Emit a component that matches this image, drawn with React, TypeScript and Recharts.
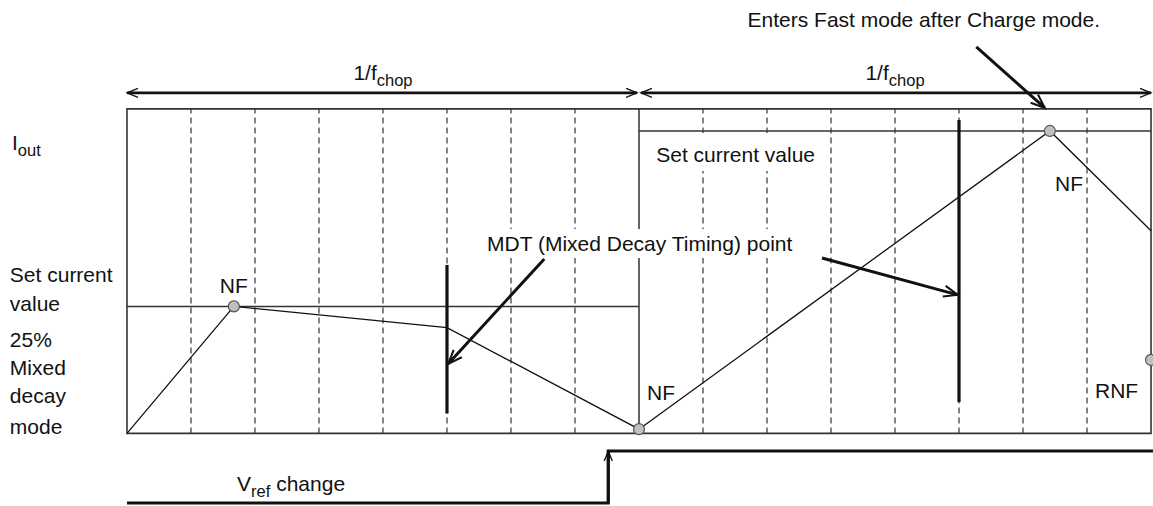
import React, { useLayoutEffect, useRef, useState } from "react"
import {
  ComposedChart,
  Line,
  XAxis,
  YAxis,
  ReferenceLine,
  ReferenceArea,
  ReferenceDot,
} from "recharts"

const W = 1153
const H = 506
const FONT = "'Liberation Sans', Arial, sans-serif"
const INK = "#111"

// time: one unit = one dashed sub-division, a chop period is 8 units
const X_DOMAIN = [-1.984, 16.031]
// current: 0 = box bottom, 100 = set current after the Vref change
const Y_DOMAIN = [-24, 143.3]

const CHOP_EDGES = [0, 8, 16]
const SUB_DIVS = [1, 2, 3, 4, 5, 6, 7, 9, 10, 11, 12, 13, 14, 15]
const BOX_TOP = 107.3

// Iout waveform
const IOUT_X = [0, 1.67, 5, 8, 14.42, 16]
const IOUT_Y = [0, 42, 35, 1.4, 100, 67]

// set current levels, one per chop period
const SET_LEVEL = [42, 100]

// NF / RNF points
const DOT_X = [1.67, 8, 14.42, 16]
const DOT_Y = [42, 1.4, 100, 24.3]

// MDT markers
const MDT_X = [5, 13]
const MDT_LOW = [6.6, 10.4]
const MDT_HIGH = [55.7, 103.6]

// Vref step
const VREF_X = [0, 7.52, 7.52, 16.03]
const VREF_Y = [-23, -23, -5.8, -5.8]

// pointer arrows (tail -> head)
const PTR_X1 = [6.52, 10.86, 13.27]
const PTR_Y1 = [57.7, 58.0, 127.8]
const PTR_X2 = [5.02, 12.98, 14.34]
const PTR_Y2 = [23.0, 45.8, 107.6]

const DIM_Y = 112.6

const iout = IOUT_X.map((x, i) => ({ x, y: IOUT_Y[i] }))
const vref = VREF_X.map((x, i) => ({ x, y: VREF_Y[i] }))

type Part = [string, boolean?]
type Ann = {
  x: number
  y: number
  parts: Part[]
  anchor?: "start" | "middle"
  bg?: [number, number, number]
}

const labels: Ann[] = [
  { x: 12.45, y: 134.4, parts: [["Enters Fast mode after Charge mode."]], anchor: "middle" },
  { x: 4, y: 116.9, parts: [["1/f"], ["chop", true]], anchor: "middle" },
  { x: 12, y: 116.9, parts: [["1/f"], ["chop", true]], anchor: "middle" },
  { x: -1.797, y: 93.7, parts: [["I"], ["out", true]] },
  { x: -1.83, y: 50.1, parts: [["Set current"]] },
  { x: -1.83, y: 40.5, parts: [["value"]] },
  { x: -1.83, y: 28.6, parts: [["25%"]] },
  { x: -1.83, y: 19.3, parts: [["Mixed"]] },
  { x: -1.83, y: 10.1, parts: [["decay"]] },
  { x: -1.83, y: -0.17, parts: [["mode"]] },
  { x: 1.67, y: 46.4, parts: [["NF"]], anchor: "middle" },
  { x: 8.125, y: 11.07, parts: [["NF"]] },
  { x: 14.5, y: 80.2, parts: [["NF"]] },
  { x: 15.125, y: 11.7, parts: [["RNF"]] },
  { x: 8.27, y: 89.75, parts: [["Set current value"]], bg: [6, 10, 5] },
  { x: 5.625, y: 60.3, parts: [["MDT (Mixed Decay Timing) point"]], bg: [4, 3, 3] },
  { x: 1.72, y: -19.2, parts: [["V"], ["ref", true], [" change"]] },
]

function AnnText({ cx, cy, a }: { cx: number; cy: number; a: Ann }) {
  const ref = useRef<SVGTextElement>(null)
  const [box, setBox] = useState<DOMRect | null>(null)
  useLayoutEffect(() => {
    if (a.bg && ref.current) setBox(ref.current.getBBox())
  }, [])
  let prevSub = false
  return (
    <g>
      {box && a.bg && (
        <rect
          x={box.x - a.bg[0]}
          y={box.y - a.bg[1]}
          width={box.width + 2 * a.bg[0]}
          height={box.height + a.bg[1] + a.bg[2]}
          fill="#fff"
        />
      )}
      <text ref={ref} x={cx} y={cy} textAnchor={a.anchor ?? "start"} fontFamily={FONT} fontSize={21} fill={INK}>
        {a.parts.map(([t, sub], i) => {
          const dy = sub ? 6 : prevSub ? -6 : 0
          prevSub = !!sub
          return (
            <tspan key={i} dy={dy} fontSize={sub ? 16.5 : 21}>
              {t}
            </tspan>
          )
        })}
      </text>
    </g>
  )
}

// line with open arrow heads
const arrow = (o: { start?: boolean; end?: boolean; len: number; half: number; hw: number }) => (p: any) => {
  const { x1, y1, x2, y2, stroke, strokeWidth } = p
  const head = (tx: number, ty: number, fx: number, fy: number) => {
    const a = Math.atan2(ty - fy, tx - fx)
    const bx = tx - o.len * Math.cos(a)
    const by = ty - o.len * Math.sin(a)
    const nx = -Math.sin(a) * o.half
    const ny = Math.cos(a) * o.half
    return (
      <polyline
        points={`${bx + nx},${by + ny} ${tx},${ty} ${bx - nx},${by - ny}`}
        fill="none"
        stroke={stroke}
        strokeWidth={o.hw}
      />
    )
  }
  return (
    <g>
      <line x1={x1} y1={y1} x2={x2} y2={y2} stroke={stroke} strokeWidth={strokeWidth} />
      {o.start && head(x1, y1, x2, y2)}
      {o.end && head(x2, y2, x1, y1)}
    </g>
  )
}

const dimArrow = arrow({ start: true, end: true, len: 11, half: 4.5, hw: 1.3 })
const ptrArrow = arrow({ end: true, len: 14, half: 5.5, hw: 2 })
const riseArrow = arrow({ end: true, len: 10, half: 4, hw: 1.3 })

export default function App() {
  return (
    <div style={{ position: "absolute", left: 0, top: 0, width: W, height: H, background: "#fff" }}>
      <ComposedChart width={W} height={H} margin={{ top: 0, right: 0, bottom: 0, left: 0 }}>
        <XAxis dataKey="x" type="number" domain={X_DOMAIN} allowDataOverflow hide />
        <YAxis type="number" domain={Y_DOMAIN} allowDataOverflow hide />

        {/* sub-division grid */}
        {SUB_DIVS.map((x) => (
          <ReferenceLine
            key={`d${x}`}
            segment={[{ x, y: 0 }, { x, y: BOX_TOP }]}
            stroke="#333"
            strokeWidth={1.2}
            strokeDasharray="6 4"
            ifOverflow="visible"
          />
        ))}

        {/* box + period edges */}
        <ReferenceArea
          x1={CHOP_EDGES[0]}
          x2={CHOP_EDGES[2]}
          y1={0}
          y2={BOX_TOP}
          fill="none"
          stroke="#333"
          strokeWidth={1.6}
          ifOverflow="visible"
        />
        <ReferenceLine
          segment={[{ x: CHOP_EDGES[1], y: 0 }, { x: CHOP_EDGES[1], y: BOX_TOP }]}
          stroke="#222"
          strokeWidth={1.4}
          ifOverflow="visible"
        />

        {/* set current levels */}
        {SET_LEVEL.map((y, i) => (
          <ReferenceLine
            key={`s${i}`}
            segment={[{ x: CHOP_EDGES[i], y }, { x: CHOP_EDGES[i + 1], y }]}
            stroke="#333"
            strokeWidth={1.5}
            ifOverflow="visible"
          />
        ))}

        <Line data={iout} dataKey="y" type="linear" stroke={INK} strokeWidth={1.3} dot={false} activeDot={false} isAnimationActive={false} />
        <Line data={vref} dataKey="y" type="linear" stroke={INK} strokeWidth={3} dot={false} activeDot={false} isAnimationActive={false} />

        {/* MDT markers */}
        {MDT_X.map((x, i) => (
          <ReferenceLine
            key={`m${i}`}
            segment={[{ x, y: MDT_LOW[i] }, { x, y: MDT_HIGH[i] }]}
            stroke={INK}
            strokeWidth={3.2}
            ifOverflow="visible"
          />
        ))}

        {/* period dimension arrows */}
        <ReferenceLine segment={[{ x: 0, y: DIM_Y }, { x: 7.97, y: DIM_Y }]} stroke={INK} strokeWidth={2.6} shape={dimArrow} ifOverflow="visible" />
        <ReferenceLine segment={[{ x: 8.03, y: DIM_Y }, { x: 16, y: DIM_Y }]} stroke={INK} strokeWidth={2.6} shape={dimArrow} ifOverflow="visible" />

        {/* pointers */}
        {PTR_X1.map((x, i) => (
          <ReferenceLine
            key={`p${i}`}
            segment={[{ x, y: PTR_Y1[i] }, { x: PTR_X2[i], y: PTR_Y2[i] }]}
            stroke={INK}
            strokeWidth={3}
            shape={ptrArrow}
            ifOverflow="visible"
          />
        ))}
        <ReferenceLine
          segment={[{ x: VREF_X[1], y: VREF_Y[1] }, { x: VREF_X[2], y: VREF_Y[2] }]}
          stroke={INK}
          strokeWidth={3}
          shape={riseArrow}
          ifOverflow="visible"
        />

        {/* NF points */}
        {DOT_X.map((x, i) => (
          <ReferenceDot key={`n${i}`} x={x} y={DOT_Y[i]} r={5.5} fill="#c0c0c0" stroke="#555" strokeWidth={1.2} ifOverflow="visible" />
        ))}

        {labels.map((a, i) => (
          <ReferenceDot
            key={`t${i}`}
            x={a.x}
            y={a.y}
            r={0}
            ifOverflow="visible"
            shape={(p: any) => <AnnText cx={p.cx} cy={p.cy} a={a} />}
          />
        ))}
      </ComposedChart>
    </div>
  )
}
